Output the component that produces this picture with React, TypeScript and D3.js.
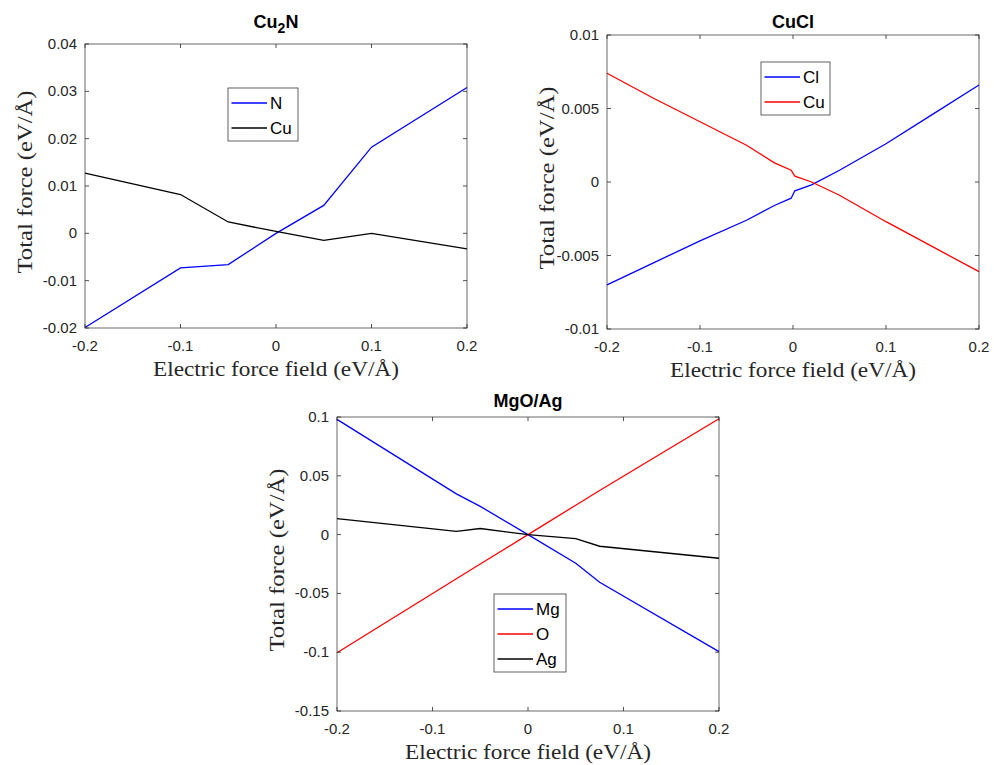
import React from "react";
import * as d3 from "d3";

// Electric field values (eV/Å) for each system
const fieldCu2N = [-0.2, -0.1, -0.05, 0, 0.05, 0.1, 0.2];
const forceCu2N_N = [-0.0199, -0.0073, -0.0066, 0.0, 0.0059, 0.0182, 0.0308];
const forceCu2N_Cu = [0.0127, 0.0082, 0.0024, 0.0004, -0.0015, 0.0, -0.0033];

const fieldCuCl = [-0.2, -0.15, -0.1, -0.05, -0.02, -0.002, 0.002, 0.02, 0.05, 0.1, 0.15, 0.2];
const forceCuCl_Cl = [-0.007, -0.0055, -0.004, -0.0026, -0.0016, -0.0011, -0.0006, -0.0002, 0.0008, 0.0026, 0.0046, 0.0066];
const forceCuCl_Cu = [0.0074, 0.0057, 0.0041, 0.0025, 0.0013, 0.0008, 0.0004, 0.0, -0.0009, -0.0027, -0.0044, -0.0061];

const fieldMgO = [-0.2, -0.075, -0.05, 0, 0.05, 0.075, 0.2];
const forceMgO_Mg = [0.098, 0.0346, 0.024, 0.0, -0.0244, -0.0405, -0.0995];
const forceMgO_O = [-0.1005, -0.0375, -0.025, 0.0, 0.025, 0.0375, 0.0985];
const forceMgO_Ag = [0.0136, 0.0028, 0.0052, 0.0, -0.0034, -0.0099, -0.0201];

const xTicks = [-0.2, -0.1, 0, 0.1, 0.2];
const yTicksCu2N = [-0.02, -0.01, 0, 0.01, 0.02, 0.03, 0.04];
const yTicksCuCl = [-0.01, -0.005, 0, 0.005, 0.01];
const yTicksMgO = [-0.15, -0.1, -0.05, 0, 0.05, 0.1];

const BLUE = "#0000ff";
const RED = "#ff0000";
const BLACK = "#000000";
const AXIS = "#262626";
const SANS = "'Liberation Sans', Arial, sans-serif";
const SERIF = "'Liberation Serif', 'Times New Roman', serif";

type Series = { name: string; color: string; x: number[]; y: number[] };
type Panel = {
  title: React.ReactNode;
  titleY: number;
  left: number;
  right: number;
  top: number;
  bottom: number;
  yDomain: [number, number];
  yTicks: number[];
  series: Series[];
  legend: { x: number; y: number; w: number };
};

const panels: Panel[] = [
  {
    title: (
      <>
        Cu<tspan dy={5} fontSize={14}>2</tspan>
        <tspan dy={-5}>N</tspan>
      </>
    ),
    titleY: 28,
    left: 85,
    right: 467,
    top: 44,
    bottom: 328,
    yDomain: [-0.02, 0.04],
    yTicks: yTicksCu2N,
    series: [
      { name: "N", color: BLUE, x: fieldCu2N, y: forceCu2N_N },
      { name: "Cu", color: BLACK, x: fieldCu2N, y: forceCu2N_Cu },
    ],
    legend: { x: 228, y: 88, w: 70 },
  },
  {
    title: "CuCl",
    titleY: 28,
    left: 607,
    right: 979,
    top: 35,
    bottom: 329,
    yDomain: [-0.01, 0.01],
    yTicks: yTicksCuCl,
    series: [
      { name: "Cl", color: BLUE, x: fieldCuCl, y: forceCuCl_Cl },
      { name: "Cu", color: RED, x: fieldCuCl, y: forceCuCl_Cu },
    ],
    legend: { x: 761, y: 62, w: 69 },
  },
  {
    title: "MgO/Ag",
    titleY: 407,
    left: 337,
    right: 719,
    top: 417,
    bottom: 711,
    yDomain: [-0.15, 0.1],
    yTicks: yTicksMgO,
    series: [
      { name: "Mg", color: BLUE, x: fieldMgO, y: forceMgO_Mg },
      { name: "O", color: RED, x: fieldMgO, y: forceMgO_O },
      { name: "Ag", color: BLACK, x: fieldMgO, y: forceMgO_Ag },
    ],
    legend: { x: 494, y: 594, w: 72 },
  },
];

const fmt = (v: number) => (v === 0 ? "0" : String(+v.toFixed(3)));

function PanelView({ p }: { p: Panel }) {
  const x = d3.scaleLinear().domain([-0.2, 0.2]).range([p.left, p.right]);
  const y = d3.scaleLinear().domain(p.yDomain).range([p.bottom, p.top]);
  const line = d3
    .line<[number, number]>()
    .x((d) => x(d[0]))
    .y((d) => y(d[1]));
  const cx = (p.left + p.right) / 2;
  const cy = (p.top + p.bottom) / 2;
  const tickLen = 4;
  const rowH = 25;
  const legH = p.series.length * rowH + 3;
  return (
    <g>
      {/* plot lines */}
      {p.series.map((s) => (
        <path
          key={s.name}
          d={line(s.x.map((v, i) => [v, s.y[i]] as [number, number])) || ""}
          fill="none"
          stroke={s.color}
          strokeWidth={1.3}
        />
      ))}
      {/* box */}
      <rect
        x={p.left}
        y={p.top}
        width={p.right - p.left}
        height={p.bottom - p.top}
        fill="none"
        stroke={AXIS}
        strokeWidth={0.8}
        opacity={0.85}
      />
      {/* x ticks */}
      {xTicks.map((t) => (
        <g key={"x" + t}>
          <line x1={x(t)} x2={x(t)} y1={p.bottom} y2={p.bottom - tickLen} stroke={AXIS} strokeWidth={0.8} />
          <line x1={x(t)} x2={x(t)} y1={p.top} y2={p.top + tickLen} stroke={AXIS} strokeWidth={0.8} />
          <text
            x={x(t)}
            y={p.bottom + 23}
            textAnchor="middle"
            fontFamily={SANS}
            fontSize={15}
            fill={AXIS}
          >
            {fmt(t)}
          </text>
        </g>
      ))}
      {/* y ticks */}
      {p.yTicks.map((t) => (
        <g key={"y" + t}>
          <line x1={p.left} x2={p.left + tickLen} y1={y(t)} y2={y(t)} stroke={AXIS} strokeWidth={0.8} />
          <line x1={p.right} x2={p.right - tickLen} y1={y(t)} y2={y(t)} stroke={AXIS} strokeWidth={0.8} />
          <text
            x={p.left - 8}
            y={y(t) + 5}
            textAnchor="end"
            fontFamily={SANS}
            fontSize={15}
            fill={AXIS}
          >
            {fmt(t)}
          </text>
        </g>
      ))}
      {/* title */}
      <text
        x={cx}
        y={p.titleY}
        textAnchor="middle"
        fontFamily={SANS}
        fontWeight="bold"
        fontSize={18}
        fill={BLACK}
      >
        {p.title}
      </text>
      {/* axis labels */}
      <text
        x={cx}
        y={p.bottom + 48}
        textAnchor="middle"
        fontFamily={SERIF}
        fontSize={22}
        textLength={246}
        lengthAdjust="spacingAndGlyphs"
        fill={AXIS}
      >
        Electric force field (eV/Å)
      </text>
      <text
        transform={`translate(${p.left - 53},${cy - 4}) rotate(-90)`}
        textAnchor="middle"
        fontFamily={SERIF}
        fontSize={22}
        textLength={183}
        lengthAdjust="spacingAndGlyphs"
        fill={AXIS}
      >
        Total force (eV/Å)
      </text>
      {/* legend */}
      <g transform={`translate(${p.legend.x},${p.legend.y})`}>
        <rect width={p.legend.w} height={legH} fill="#fff" stroke={AXIS} strokeWidth={0.8} opacity={0.9} />
        {p.series.map((s, i) => (
          <g key={s.name} transform={`translate(0,${15 + rowH * i})`}>
            <line x1={3.5} x2={39} y1={0} y2={0} stroke={s.color} strokeWidth={1.3} />
            <text x={42} y={6} fontFamily={SANS} fontSize={17} fill={BLACK}>
              {s.name}
            </text>
          </g>
        ))}
      </g>
    </g>
  );
}

export default function App() {
  return (
    <svg
      width={994}
      height={765}
      style={{ position: "absolute", left: 0, top: 0, background: "#fff" }}
    >
      <rect width={994} height={765} fill="#fff" />
      {panels.map((p, i) => (
        <PanelView key={i} p={p} />
      ))}
    </svg>
  );
}
